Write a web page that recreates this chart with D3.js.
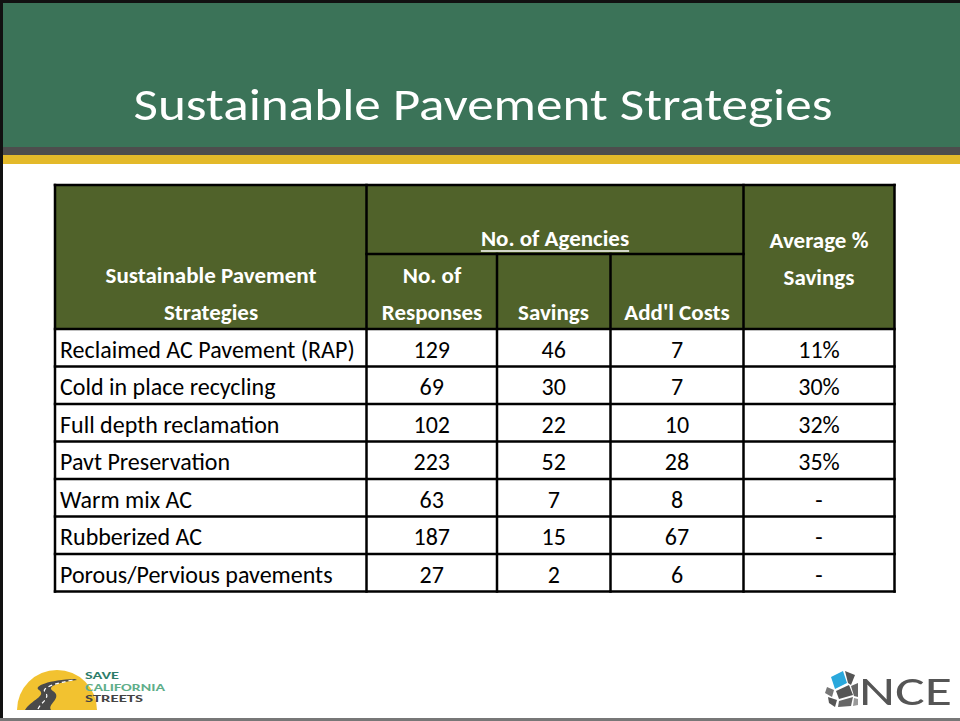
<!DOCTYPE html>
<html>
  <head>
    <meta charset="utf-8">
    <title>Sustainable Pavement Strategies</title>
    <style>
      body { margin: 0; background-color: white; }
      svg { display: block; }
      text { font-family: Carlito, Calibri, Lato, "Open Sans", sans-serif; }
    </style>
  </head>
  <body>
    <div id="chart"></div>

    <script src="https://d3js.org/d3.v7.min.js"></script>
    <script>
    var strategies = ["Reclaimed AC Pavement (RAP)", "Cold in place recycling", "Full depth reclamation",
      "Pavt Preservation", "Warm mix AC", "Rubberized AC", "Porous/Pervious pavements"];
    var responses = [129, 69, 102, 223, 63, 187, 27];
    var savings = [46, 30, 22, 52, 7, 15, 2];
    var addlCosts = [7, 7, 10, 28, 8, 67, 6];
    var avgSavings = ["11%", "30%", "32%", "35%", "-", "-", "-"];

    var width = 960;
    var height = 721;

    var svg = d3.select("#chart").append("svg")
      .attr("width", width)
      .attr("height", height);

    // slide frame + banner
    svg.append("rect").attr("x", 0).attr("y", 0).attr("width", width).attr("height", height).attr("fill", "white");
    svg.append("rect").attr("x", 0).attr("y", 0).attr("width", width).attr("height", 150).attr("fill", "#3b7358");
    svg.append("rect").attr("x", 0).attr("y", 147).attr("width", width).attr("height", 8).attr("fill", "#4d4d4d");
    svg.append("rect").attr("x", 0).attr("y", 155).attr("width", width).attr("height", 9).attr("fill", "#e3b92a");
    svg.append("rect").attr("x", 0).attr("y", 0).attr("width", width).attr("height", 3).attr("fill", "#111");
    svg.append("rect").attr("x", 0).attr("y", 0).attr("width", 3).attr("height", height).attr("fill", "#111");
    svg.append("rect").attr("x", 0).attr("y", 718).attr("width", width).attr("height", 3).attr("fill", "#777");

    svg.append("text")
      .attr("x", 483).attr("y", 120)
      .attr("text-anchor", "middle")
      .attr("font-size", 46)
      .attr("fill", "white")
      .attr("textLength", 699)
      .attr("lengthAdjust", "spacingAndGlyphs")
      .text("Sustainable Pavement Strategies");

    // table
    var colEdges = [55, 366.5, 497, 610.5, 743.5, 894.5];
    var tableTop = 185, subTop = 254, headBottom = 329, tableBottom = 591.5;
    var headFill = "#50622a";

    var y = d3.scaleBand()
      .domain(strategies)
      .range([headBottom, tableBottom]);

    var table = svg.append("g");

    table.append("rect")
      .attr("x", colEdges[0]).attr("y", tableTop)
      .attr("width", colEdges[5] - colEdges[0]).attr("height", headBottom - tableTop)
      .attr("fill", headFill);

    var lineStyle = function(sel) {
      return sel.attr("stroke", "black").attr("stroke-width", 2.5).attr("stroke-linecap", "square");
    };

    // horizontal lines
    var hLines = [tableTop, headBottom].concat(strategies.map(function(d) { return y(d) + y.bandwidth(); }));
    table.selectAll("line.h")
      .data(hLines)
      .enter()
      .append("line")
      .attr("class", "h")
      .attr("x1", colEdges[0]).attr("x2", colEdges[5])
      .attr("y1", function(d) { return d; }).attr("y2", function(d) { return d; })
      .call(lineStyle);
    table.append("line")
      .attr("x1", colEdges[1]).attr("x2", colEdges[4])
      .attr("y1", subTop).attr("y2", subTop)
      .call(lineStyle);

    // vertical lines
    table.selectAll("line.v")
      .data(colEdges)
      .enter()
      .append("line")
      .attr("class", "v")
      .attr("x1", function(d) { return d; }).attr("x2", function(d) { return d; })
      .attr("y1", function(d, i) { return (i === 2 || i === 3) ? subTop : tableTop; })
      .attr("y2", tableBottom)
      .call(lineStyle);

    // header text
    var headers = [
      {x: 211, y: 283, t: "Sustainable Pavement"},
      {x: 211, y: 320, t: "Strategies"},
      {x: 432, y: 283, t: "No. of"},
      {x: 432, y: 320, t: "Responses"},
      {x: 553.5, y: 320, t: "Savings"},
      {x: 677, y: 320, t: "Add'l Costs"},
      {x: 819, y: 248, t: "Average %"},
      {x: 819, y: 285, t: "Savings"},
      {x: 555, y: 246, t: "No. of Agencies", u: true}
    ];
    table.selectAll("text.head")
      .data(headers)
      .enter()
      .append("text")
      .attr("class", "head")
      .attr("x", function(d) { return d.x; })
      .attr("y", function(d) { return d.y; })
      .attr("text-anchor", "middle")
      .attr("font-size", 23)
      .attr("font-weight", "bold")
      .attr("fill", "white")
      .text(function(d) { return d.t; })
      .each(function(d) {
        if (!d.u) return;
        var w = this.getComputedTextLength();
        table.append("line")
          .attr("x1", d.x - w / 2).attr("x2", d.x + w / 2)
          .attr("y1", d.y + 5).attr("y2", d.y + 5)
          .attr("stroke", "white").attr("stroke-width", 1.5);
      });

    // body rows
    var cols = [responses, savings, addlCosts, avgSavings];
    var rows = table.selectAll("g.row")
      .data(strategies)
      .enter()
      .append("g")
      .attr("class", "row")
      .attr("transform", function(d) { return "translate(0," + (y(d) + y.bandwidth() / 2 + 10) + ")"; });

    rows.append("text")
      .attr("x", colEdges[0] + 5)
      .attr("font-size", 24)
      .attr("fill", "black")
      .text(function(d) { return d; });

    cols.forEach(function(col, c) {
      rows.append("text")
        .attr("x", (colEdges[c + 1] + colEdges[c + 2]) / 2)
        .attr("text-anchor", "middle")
        .attr("font-size", 24)
        .attr("fill", "black")
        .text(function(d, i) { return col[i]; });
    });

    // Save California Streets logo
    var logo1 = svg.append("g").attr("transform", "translate(17,664)");
    logo1.append("path")
      .attr("d", "M0,46 A40,40 0 0 1 80,46 Z")
      .attr("fill", "#f2c230");
    logo1.append("path")
      .attr("d", "M8,46 C14,36 30,32 22,26 C16,22 32,16 58,15 L60,16 C38,19 30,23 36,27 C46,34 30,40 34,46 Z")
      .attr("fill", "#4a4a4a");
    logo1.append("path")
      .attr("d", "M21,45 C24,38 34,34 28,28 C24,24 38,19 57,16")
      .attr("fill", "none").attr("stroke", "white").attr("stroke-width", 1.2).attr("stroke-dasharray", "4,3");
    var logoText = [
      {t: "SAVE", y: 15, f: "#2d7d6a", w: 34},
      {t: "CALIFORNIA", y: 26.5, f: "#5fae8a", w: 80},
      {t: "STREETS", y: 38, f: "#444", w: 58}
    ];
    logo1.selectAll("text")
      .data(logoText)
      .enter()
      .append("text")
      .attr("x", 68)
      .attr("y", function(d) { return d.y; })
      .attr("font-size", 9.5)
      .attr("font-weight", "bold")
      .attr("font-family", "Liberation Sans, Arial, sans-serif")
      .attr("fill", function(d) { return d.f; })
      .attr("textLength", function(d) { return d.w; })
      .attr("lengthAdjust", "spacingAndGlyphs")
      .text(function(d) { return d.t; });

    // NCE logo
    var logo2 = svg.append("g").attr("transform", "translate(825,669)");
    var tiles = [
      {d: "M6,8 L18,2 L22,14 L10,20 Z", f: "#2aa8dc"},
      {d: "M20,2 L30,6 L26,16 L23,14 Z", f: "#555"},
      {d: "M2,18 L9,21 L7,28 L0,24 Z", f: "#777"},
      {d: "M11,22 L24,16 L28,26 L14,30 Z", f: "#555"},
      {d: "M26,17 L33,14 L33,28 L29,27 Z", f: "#666"},
      {d: "M3,28 L12,31 L10,38 L4,34 Z", f: "#555"},
      {d: "M14,32 L28,28 L26,37 L13,38 Z", f: "#666"},
      {d: "M29,29 L33,30 L33,36 L28,37 Z", f: "#999"}
    ];
    logo2.selectAll("path")
      .data(tiles)
      .enter()
      .append("path")
      .attr("d", function(d) { return d.d; })
      .attr("fill", function(d) { return d.f; });
    logo2.append("text").attr("x", 34).attr("y", 36).attr("font-size", 42)
      .attr("font-family", "Liberation Sans, Arial, sans-serif").attr("fill", "#555")
      .attr("textLength", 93).attr("lengthAdjust", "spacingAndGlyphs").text("NCE");
    </script>
  </body>
</html>
